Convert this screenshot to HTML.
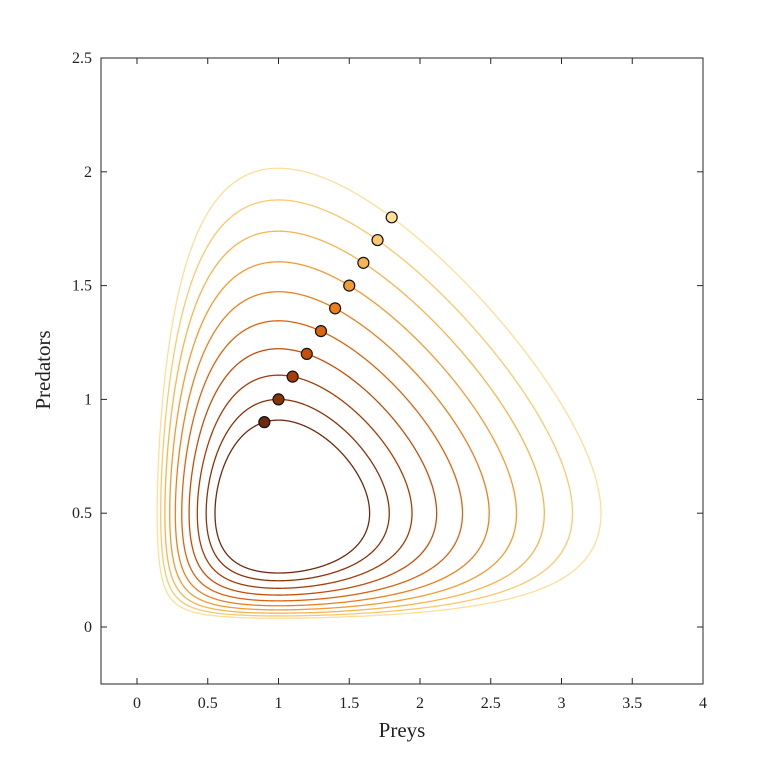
<!DOCTYPE html>
<html><head><meta charset="utf-8"><style>
body{margin:0;background:#fff;}
svg text{font-family:"Liberation Serif",serif;fill:#222;}
</style></head><body>
<svg id="s" width="776" height="768" xmlns="http://www.w3.org/2000/svg">
<rect x="0" y="0" width="776" height="768" fill="#fff"/>
<g id="curves"></g>
<g id="pts"></g>
<rect x="101" y="58" width="602" height="626" fill="none" stroke="#262626" stroke-width="1"/>
<g id="ticks" stroke="#262626" stroke-width="1"></g>
<g id="labels" font-size="16"></g>
<text x="402" y="737" font-size="21" text-anchor="middle">Preys</text>
<text x="50" y="370" font-size="21" text-anchor="middle" transform="rotate(-90 50 370)">Predators</text>
</svg>
<script>
const X=v=>137+v*141.5, Y=v=>627-v*227.6;
const ns="http://www.w3.org/2000/svg";
function el(t,a,p){const e=document.createElementNS(ns,t);for(const k in a)e.setAttribute(k,a[k]);if(p)p.appendChild(e);return e;}
const H=(x,y)=>x-Math.log(x)+(2/3)*(2*y-Math.log(y));
const H0=H(1,0.5);
const cols=["#6e2a0e","#8a3308","#a43d06","#c24f0a","#d9650f","#e98020","#f39b33","#f7b44f","#fac96f","#fcdf98"];
const cg=document.getElementById("curves"),pg=document.getElementById("pts");
for(let i=0;i<10;i++){
 const v=0.9+0.1*i, E=H(v,v);
 let d="";
 for(let k=0;k<=1440;k++){
  const th=k/1440*2*Math.PI, c=Math.cos(th), s=Math.sin(th);
  let lo=0,hi=5;
  // limit so x,y>0
  if(c<0)hi=Math.min(hi,0.99999/(-c));
  if(s<0)hi=Math.min(hi,0.49999/(-s));
  for(let j=0;j<60;j++){const m=(lo+hi)/2; if(H(1+m*c,0.5+m*s)>E)hi=m;else lo=m;}
  const r=(lo+hi)/2;
  d+=(k?"L":"M")+X(1+r*c).toFixed(2)+" "+Y(0.5+r*s).toFixed(2);
 }
 el("path",{d:d+"Z",fill:"none",stroke:cols[i],"stroke-width":1.3},cg);
}
for(let i=0;i<10;i++){const v=0.9+0.1*i;el("circle",{cx:X(v),cy:Y(v),r:5.5,fill:cols[i],stroke:"#111","stroke-width":1.2},pg);}
const tg=document.getElementById("ticks"),lg=document.getElementById("labels");
for(let i=0;i<=8;i++){const v=i*0.5,x=X(v);
 el("line",{x1:x,y1:684,x2:x,y2:678},tg);el("line",{x1:x,y1:58,x2:x,y2:64},tg);
 const t=el("text",{x:x,y:708,"text-anchor":"middle"},lg);t.textContent=String(v);}
for(let i=0;i<=5;i++){const v=i*0.5,y=Y(v);
 el("line",{x1:101,y1:y,x2:107,y2:y},tg);el("line",{x1:703,y1:y,x2:697,y2:y},tg);
 const t=el("text",{x:92,y:y+5,"text-anchor":"end"},lg);t.textContent=String(v);}
</script>
</body></html>
